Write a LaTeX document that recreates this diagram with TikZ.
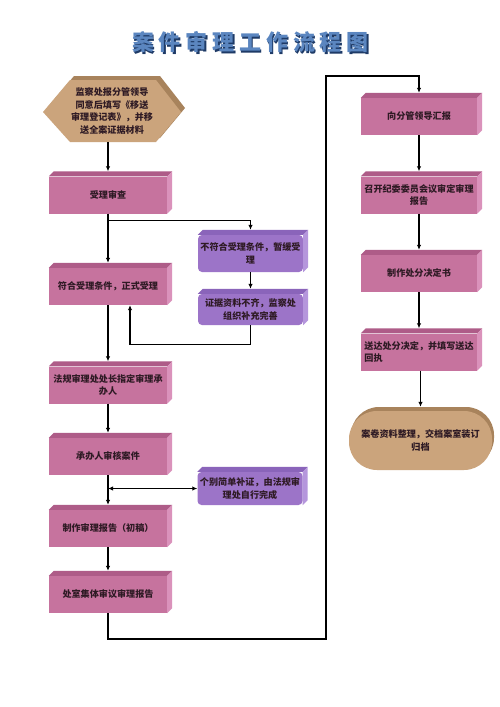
\documentclass[tikz,border=0pt]{standalone}
\usepackage{fontspec}
\newfontfamily\cjk{Noto Sans CJK SC}
\newfontfamily\titlefont[LetterSpace=22]{Noto Sans CJK SC}
\usetikzlibrary{arrows.meta,calc,shadows}
\definecolor{pinkf}{HTML}{C6739E}
\definecolor{pinkt}{HTML}{AE5C88}
\definecolor{pinks}{HTML}{DA92BB}
\definecolor{purf}{HTML}{9C74C8}
\definecolor{purt}{HTML}{8A64BA}
\definecolor{purs}{HTML}{B596DC}
\definecolor{tanf}{HTML}{CBA47C}
\definecolor{tant}{HTML}{A8835C}
\definecolor{txt}{HTML}{2E1A24}
\definecolor{ttl}{HTML}{5B86C0}
\definecolor{ttls}{HTML}{1E3A66}
\tikzset{
  lbl/.style={font=\cjk\bfseries\fontsize{9.1}{12.5}\selectfont, text=txt, align=center, inner sep=0pt},
  pbox/.style={lbl, fill=pinkf, minimum width=118pt, minimum height=37pt},
  rbox/.style={lbl, fill=pinkf, minimum width=116pt, minimum height=37pt},
  vbox/.style={lbl, fill=purf, rounded corners=4pt, minimum width=105pt},
  conn/.style={line width=1.3pt, draw=black},
  arr/.style={conn, -{Latex[length=5pt,width=4.5pt]}},
  biarr/.style={conn, {Latex[length=5pt,width=4.5pt]}-{Latex[length=5pt,width=4.5pt]}},
}
\newcommand\boxfaces[3]{%
  \fill[#2] (#1.north west) -- ([xshift=5pt,yshift=5pt]#1.north west) -- ([xshift=5pt,yshift=5pt]#1.north east) -- (#1.north east) -- cycle;
  \fill[#3] (#1.north east) -- ([xshift=5pt,yshift=5pt]#1.north east) -- ([xshift=5pt,yshift=5pt]#1.south east) -- (#1.south east) -- cycle;}
\begin{document}
\begin{tikzpicture}[x=1pt,y=-1pt]
\useasboundingbox[fill=white] (0,0) rectangle (500,707);
% title
\node[font=\titlefont\bfseries\fontsize{22}{22}\selectfont, text=ttls] (titles) at (252,43.5) {案件审理工作流程图};
\node[font=\titlefont\bfseries\fontsize{22}{22}\selectfont, text=ttl] (title) at (250.5,42) {案件审理工作流程图};
% hexagon
\fill[tant] (47,108) -- (74,76) -- (160,76) -- (185,108) -- (160,138) -- (74,138) -- cycle;
\fill[tanf] (43,112) -- (70,80) -- (156,80) -- (181,112) -- (156,142) -- (70,142) -- cycle;
\node[lbl] (hex) at (112,111) {监察处报分管领导\\同意后填写《移送\\审理登记表》，并移\\送全案证据材料};
\coordinate (hexb) at (108,142);
% left column
\node[pbox] (shouli) at (108,195) {受理审查};
\node[pbox] (fuhe) at (108,286.5) {符合受理条件，正式受理};
\node[pbox] (fagui) at (108,385) {法规审理处处长指定审理承\\办人};
\node[pbox] (chengban) at (108,456.5) {承办人审核案件};
\node[pbox] (zhizuo) at (108,528.5) {制作审理报告（初稿）};
\node[pbox] (chushi) at (108,594.5) {处室集体审议审理报告};
\foreach \n in {shouli,fuhe,fagui,chengban,zhizuo,chushi} {\boxfaces{\n}{pinkt}{pinks}}
% purple boxes
\node[vbox, minimum height=37pt] (buhege) at (250.5,253.5) {不符合受理条件，暂缓受\\理};
\node[vbox, minimum height=31pt] (zhengju) at (250.5,309.5) {证据资料不齐，监察处\\组织补充完善};
\node[vbox, minimum height=33pt] (gebie) at (250,488.5) {个别简单补证，由法规审\\理处自行完成};
\foreach \n in {buhege,zhengju,gebie} {\boxfaces{\n}{purt}{purs}}
% right column
\node[rbox] (xiang) at (419,116.5) {向分管领导汇报};
\node[rbox] (zhaokai) at (419,195) {召开纪委委员会议审定审理\\报告};
\node[rbox] (chufen) at (419,273.5) {制作处分决定书};
\node[rbox, align=left] (songda) at (419,352) {送达处分决定，并填写送达\\回执};
\foreach \n in {xiang,zhaokai,chufen,songda} {\boxfaces{\n}{pinkt}{pinks}}
\node[lbl, fill=tanf, rounded corners=28pt, minimum width=143pt, minimum height=59pt,
  general shadow={fill=tant, shadow xshift=2pt, shadow yshift=4pt}] (guidang) at (420.5,440.5) {案卷资料整理，交档案室装订\\归档};
% connectors
\draw[arr] (hexb) -- ([yshift=5pt]shouli.north);
\draw[arr] (shouli.south) -- ([yshift=5pt]fuhe.north);
\coordinate (br) at ($(shouli.south)+(0,7)$);
\draw[arr] (br) -| ([yshift=5pt]buhege.north);
\draw[arr] (buhege.south) -- ([yshift=5pt]zhengju.north);
\draw[arr] (zhengju.south) -- ++(0,19) -| ([xshift=22pt]fuhe.south);
\draw[arr] (fuhe.south) -- ([yshift=5pt]fagui.north);
\draw[arr] (fagui.south) -- ([yshift=5pt]chengban.north);
\draw[arr] (chengban.south) -- ([yshift=5pt]zhizuo.north);
\draw[biarr] (chengban.south |- gebie.west) -- (gebie.west);
\draw[arr] (zhizuo.south) -- ([yshift=5pt]chushi.north);
\coordinate (c1) at (326,639);
\coordinate (c2) at (326,76);
\draw[arr] (chushi.south) |- (c1) -- (c2) -| ([yshift=5pt]xiang.north);
\draw[arr] (xiang.south) -- ([yshift=5pt]zhaokai.north);
\draw[arr] (zhaokai.south) -- ([yshift=5pt]chufen.north);
\draw[arr] (chufen.south) -- ([yshift=5pt]songda.north);
\draw[arr] (songda.south -| guidang.north) -- ([yshift=4pt]guidang.north);
\end{tikzpicture}
\end{document}
